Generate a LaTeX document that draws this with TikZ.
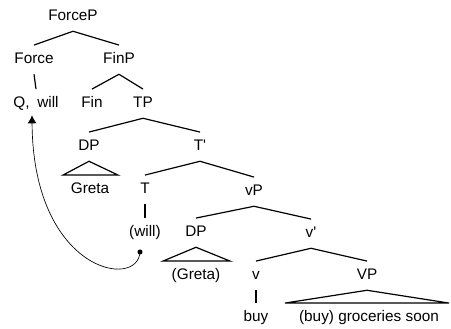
\documentclass[tikz,border=0pt]{standalone}
\usepackage{fontspec}
\setmainfont{Liberation Sans}
\usetikzlibrary{calc,arrows.meta}
\begin{document}
\begin{tikzpicture}[x=0.75pt,y=-0.75pt,
  lab/.style={font=\fontsize{11.5}{13}\selectfont,text height=8pt,text depth=3pt,
    inner xsep=0pt,inner ysep=5.25pt,anchor=base},
  branch/.style={line width=0.9pt},
  movement/.style={line width=0.5pt,-{Latex[length=6pt,width=6.5pt]}}]
  \useasboundingbox (0,0) rectangle (451,329);

  % labels, one row per level
  \node[lab] (forcep) at (73,20) {ForceP};
  \node[lab] (force) at (34,63) {Force};
  \node[lab] (finp) at (119,63) {FinP};
  \node[lab] (qwill) at (36,107) {Q,\hspace{0.5em}will};
  \node[lab] (fin) at (92,107) {Fin};
  \node[lab] (tp) at (143,107) {TP};
  \node[lab] (dp) at (89,150) {DP};
  \node[lab] (tbar) at (200,150) {T\textquotesingle};
  \node[lab] (greta) at (90,193) {Greta};
  \node[lab] (t) at (145,193) {T};
  \node[lab] (vp) at (254,195) {vP};
  \node[lab] (will) at (145,236) {(will)};
  \node[lab] (dplow) at (196,236) {DP};
  \node[lab] (vbar) at (311,237) {v\textquotesingle};
  \node[lab] (gretalow) at (196,279) {(Greta)};
  \node[lab] (v) at (256,279) {v};
  \node[lab] (bigvp) at (367,279) {VP};
  \node[lab] (buy) at (256,321) {buy};
  \node[lab] (rest) at (369,321) {(buy) groceries soon};

  % branches
  \foreach \a/\b in {forcep/force,forcep/finp,force/qwill,finp/fin,finp/tp,
      tp/dp,tp/tbar,tbar/t,tbar/vp,t/will,vp/dplow,vp/vbar,
      vbar/v,vbar/bigvp,v/buy}
    \draw[branch] (\a.south) -- (\b.north);

  % triangles over unanalysed phrases
  \foreach \a/\b/\l/\r in {dp/greta/27/28,dplow/gretalow/33/34,bigvp/rest/84/80}
    \draw[branch] (\a.south) -- ($(\b.north)+(-\l,0)$) -- ($(\b.north)+(\r,0)$) -- cycle;

  % head movement of will
  \node[circle,fill,inner sep=0pt,minimum size=3.8pt] (trace) at (140,252) {};
  \coordinate (qmark) at ($(qwill.south)+(-4,-3)$);
  \draw[movement] (trace.center) .. controls (138,290) and (33,272) .. (qmark);
\end{tikzpicture}
\end{document}
